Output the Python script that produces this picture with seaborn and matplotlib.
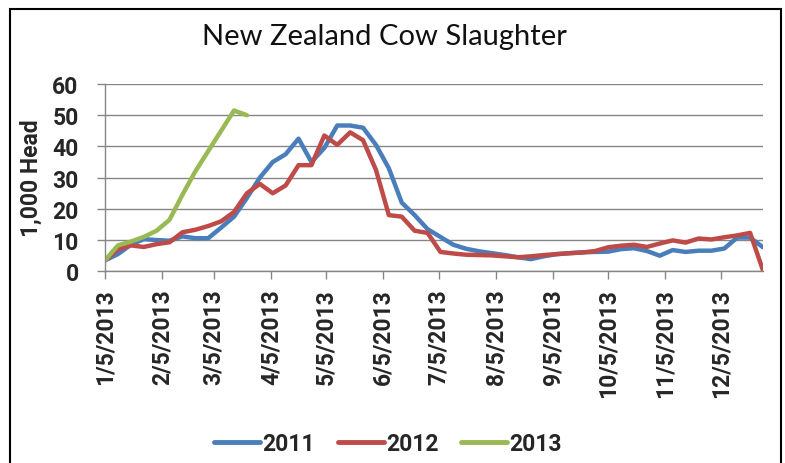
import matplotlib
matplotlib.use("Agg")
import matplotlib.pyplot as plt
from matplotlib.patches import Rectangle
import seaborn as sns
import pandas as pd

# ---- data (weekly, 1,000 head) ----
start_date = "2013-01-05"
n_weeks = 52

y2011 = [3.5, 5.5, 8.5, 10.3, 10.0, 9.8, 11.2, 10.6, 10.6, 14.0,
         17.5, 23.5, 30.0, 35.0, 37.5, 42.5, 35.0, 39.5, 46.7, 46.7,
         46.0, 40.5, 33.0, 22.0, 18.0, 13.5, 11.0, 8.5, 7.2, 6.4,
         5.8, 5.2, 4.5, 3.9, 4.8, 5.5, 5.8, 6.1, 6.2, 6.3,
         7.1, 7.4, 6.5, 5.0, 6.8, 6.2, 6.6, 6.6, 7.3, 10.8,
         10.8, 7.7]
y2012 = [3.5, 7.0, 8.3, 7.8, 8.7, 9.3, 12.5, 13.3, 14.5, 16.0,
         19.0, 25.0, 28.0, 25.0, 27.5, 34.0, 34.0, 43.5, 40.5, 44.5,
         42.0, 32.5, 18.0, 17.5, 13.0, 12.3, 6.2, 5.7, 5.3, 5.2,
         5.1, 4.8, 4.5, 4.8, 5.2, 5.5, 5.8, 6.0, 6.5, 7.7,
         8.2, 8.5, 7.8, 8.9, 9.9, 9.2, 10.5, 10.2, 10.9, 11.5,
         12.3, 0.3]
y2013 = [3.5, 8.3, 9.5, 11.0, 13.0, 16.5, 24.5, 32.0, 38.5, 45.0,
         51.5, 50.0]

series_names = ["2011", "2012", "2013"]
colors = ["#4A7EBB", "#BE4B48", "#98B954"]
title = "New Zealand Cow Slaughter"
ylabel = "1,000 Head"
yticks = [0, 10, 20, 30, 40, 50, 60]
tick_months = list(range(1, 13))

dates = pd.date_range(start_date, periods=n_weeks, freq="7D")
frames = []
for name, vals in zip(series_names, [y2011, y2012, y2013]):
    frames.append(pd.DataFrame({"date": dates[:len(vals)], "value": vals, "year": name}))
df = pd.concat(frames, ignore_index=True)

sns.set_theme(style="white")
plt.rcParams["font.family"] = ["Roboto", "DejaVu Sans"]

fig = plt.figure(figsize=(7.85, 4.64), dpi=100)
ax = fig.add_axes([105 / 785, 1 - 272.3 / 464, (763 - 105) / 785, (272.3 - 85) / 464])

sns.lineplot(data=df, x="date", y="value", hue="year", palette=colors,
             linewidth=3.2, ax=ax, legend=True)

lab_fs = 16.5
ax.set_ylim(0, 60)
ax.set_yticks(yticks)
ax.set_xlim(dates[0], dates[-1])
ticks = [pd.Timestamp(2013, m, 5) for m in tick_months]
ax.set_xticks(ticks)
ax.set_xticklabels([f"{d.month}/{d.day}/{d.year}" for d in ticks], rotation=90,
                   fontsize=lab_fs, fontweight="bold")
ax.set_yticklabels([str(t) for t in yticks], fontsize=lab_fs, fontweight="bold")
ax.tick_params(axis="both", which="major", direction="out", length=6, width=1,
               color="#868686", bottom=True, left=True)
ax.tick_params(axis="y", pad=13)
ax.tick_params(axis="x", pad=6)
ax.grid(axis="y", color="#868686", linewidth=1)
ax.set_axisbelow(True)
for s in ["top", "right"]:
    ax.spines[s].set_visible(False)
for s in ["left", "bottom"]:
    ax.spines[s].set_color("#868686")
    ax.spines[s].set_linewidth(1)
ax.set_xlabel("")
ax.set_ylabel(ylabel, fontsize=lab_fs, fontweight="bold")
ax.yaxis.set_label_coords((43 - 105) / (763 - 105), 0.5)

fig.text(384 / 785, 1 - 37 / 464, title, ha="center", va="center", fontsize=21,
         family=["Lato", "DejaVu Sans"], color="#111111")

leg = ax.legend(loc="center", bbox_to_anchor=(388 / 785, 1 - 445 / 464),
                bbox_transform=fig.transFigure, ncol=3, frameon=False,
                fontsize=lab_fs, handlelength=2.0, handletextpad=0.1,
                columnspacing=1.0, borderaxespad=0)
for t in leg.get_texts():
    t.set_fontweight("bold")
for h in leg.legend_handles:
    h.set_linewidth(3.5)

fig.patches.append(Rectangle((10 / 785, -0.05), (781 - 10) / 785, (464 - 10) / 464 + 0.05,
                             transform=fig.transFigure, fill=False,
                             edgecolor="black", linewidth=1.5, figure=fig))

fig.savefig("out.png", dpi=100)
